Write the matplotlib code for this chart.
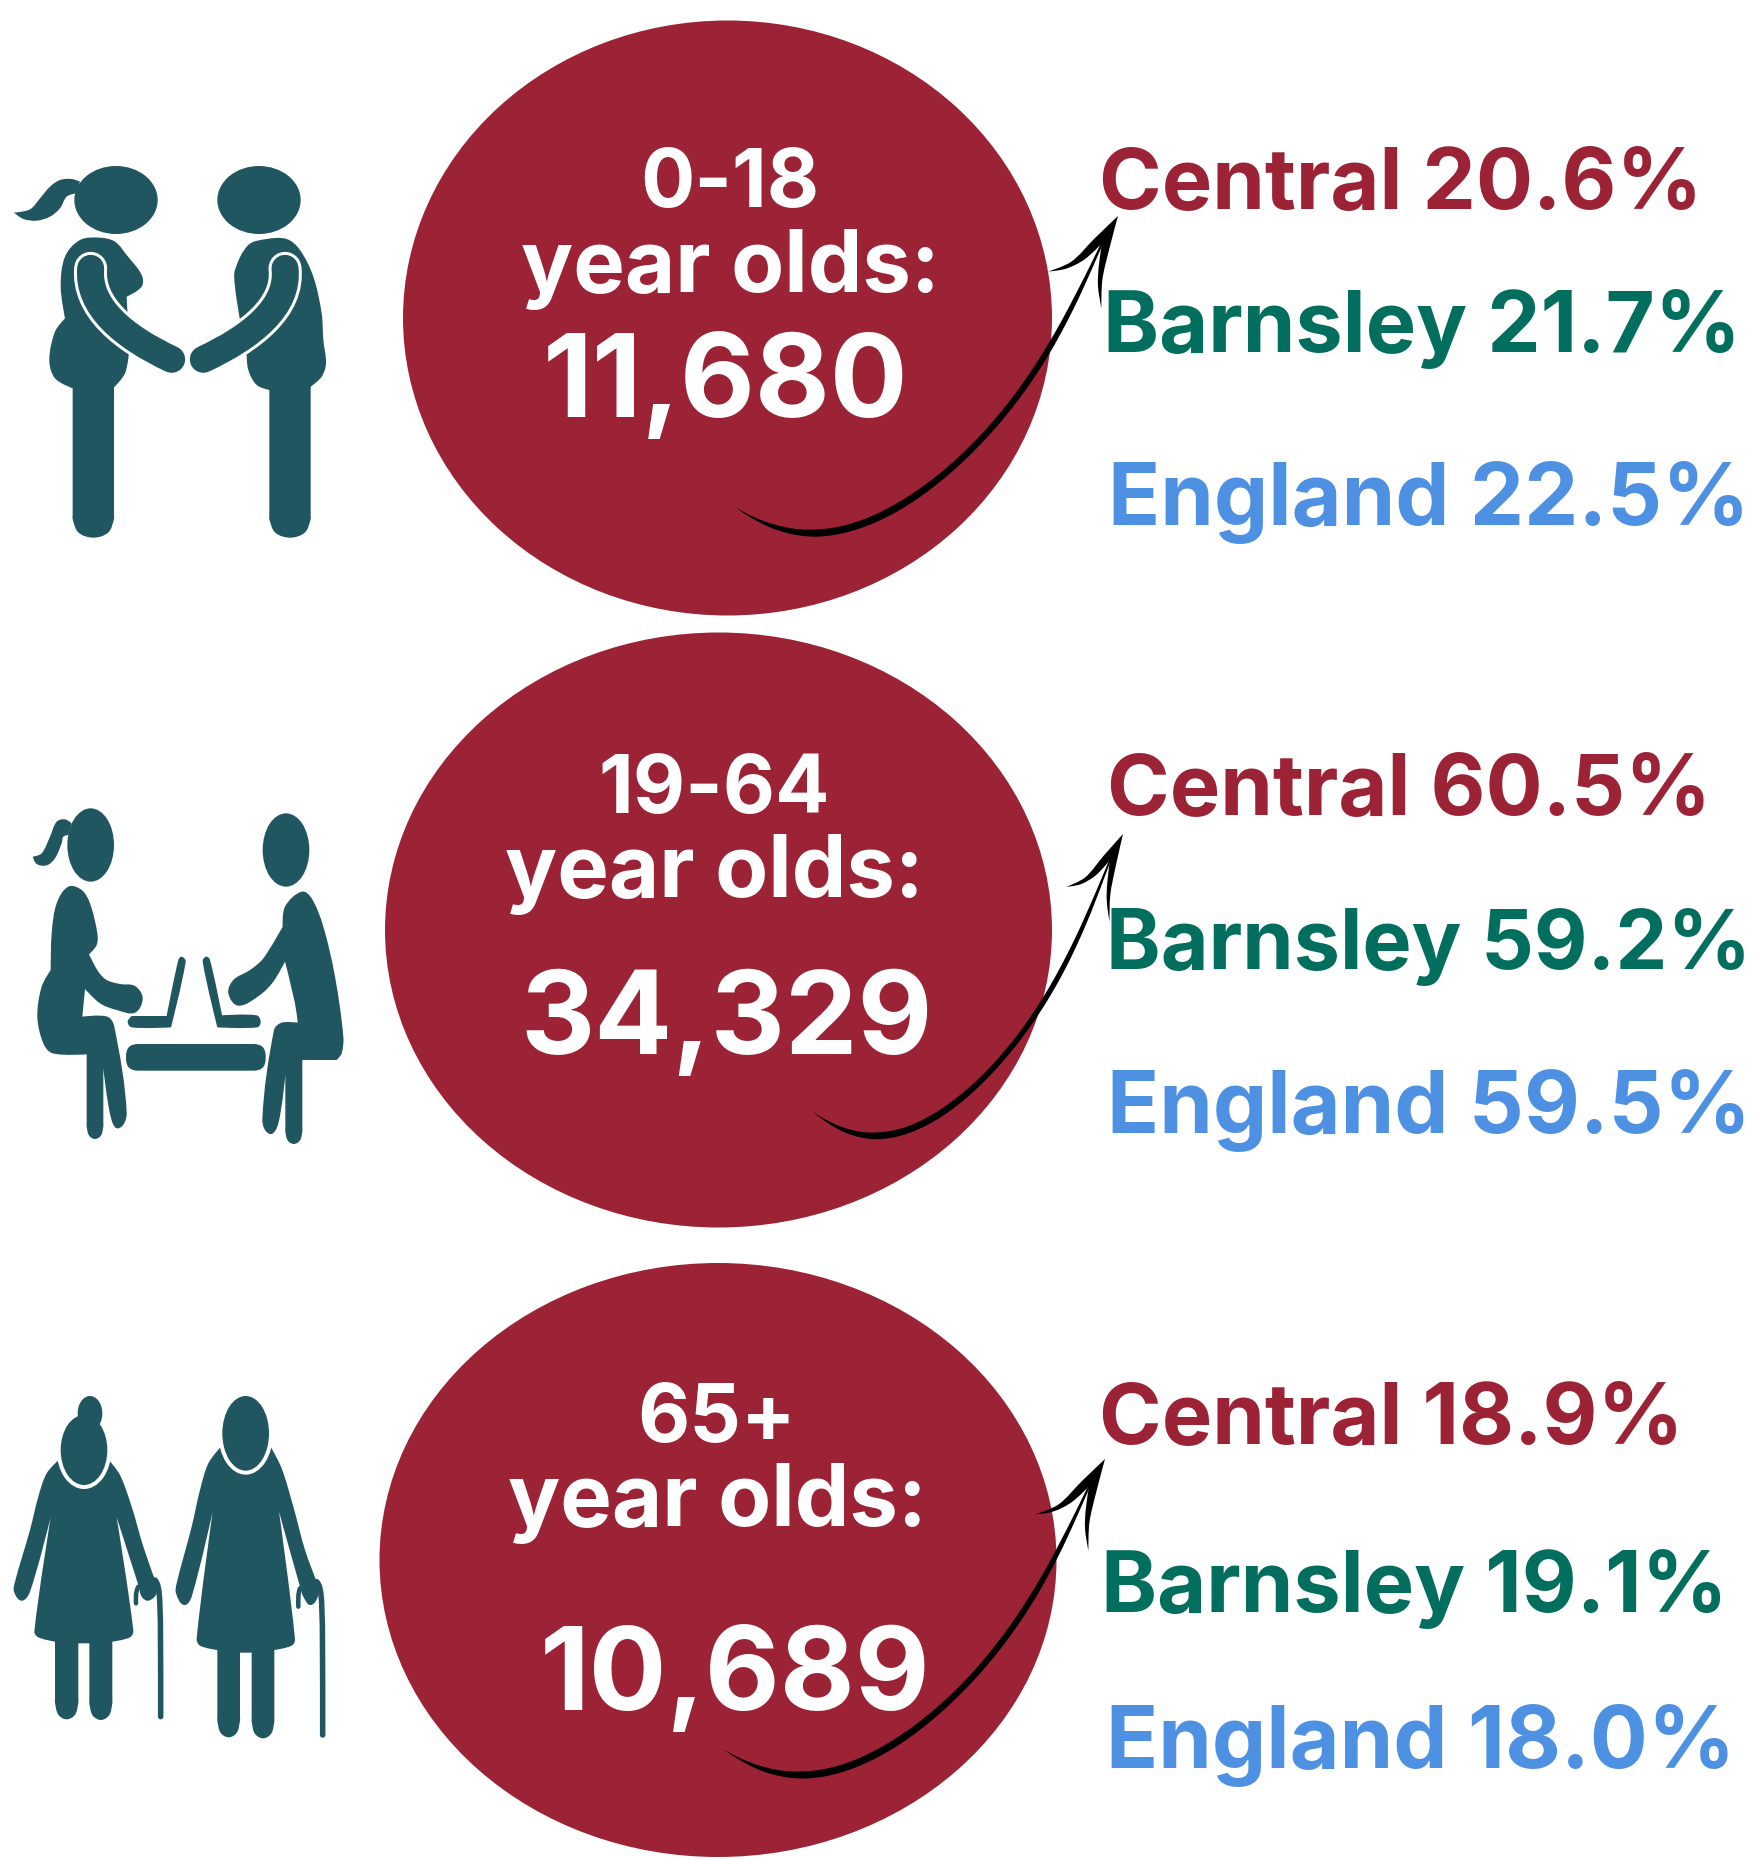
import numpy as np
import matplotlib
matplotlib.use("Agg")
import matplotlib.pyplot as plt
from matplotlib.path import Path
from matplotlib.patches import PathPatch, Ellipse, FancyBboxPatch, Polygon

W, H = 1754, 1860
plt.rcParams['font.family'] = ['Inter', 'DejaVu Sans']

age_groups = ["0-18", "19-64", "65+"]
populations = ["11,680", "34,329", "10,689"]
area_names = ["Central", "Barnsley", "England"]
central_pct = [20.6, 60.5, 18.9]
barnsley_pct = [21.7, 59.2, 19.1]
england_pct = [22.5, 59.5, 18.0]

MAROON = "#9B2335"
TEAL = "#20565F"
area_colors = [MAROON, "#026E5D", "#4E90E2"]

# layout, in pixels of the picture
circles = [(727.5, 318, 649, 595), (718.5, 930, 667, 595), (718, 1560, 677, 594)]
group_xy = [(730, 207), (714, 813), (717, 1442)]
olds_xy = [(730, 292), (714, 897), (717, 1526)]
pop_xy = [(726, 417), (727, 1054), (735, 1710)]
area_xy = [[(1099, 209), (1103, 352), (1108, 525)],
           [(1107, 815), (1106, 969), (1107, 1133)],
           [(1099, 1444), (1101, 1612), (1106, 1768)]]
area_sizes = [[61, 61, 62], [61, 59.5, 62], [61, 61, 62]]
arrow_ends = [((735, 507), (1118, 216)), ((812, 1111), (1123, 834)), ((723, 1749), (1105, 1459))]

fig = plt.figure(figsize=(W / 100, H / 100), dpi=100)
ax = fig.add_axes([0, 0, 1, 1])
ax.set_xlim(0, W)
ax.set_ylim(H, 0)
ax.axis("off")


def blob_path(pts):
  # closed smooth outline, a point with a third value is a sharp corner
  n = len(pts)
  xy = np.array([p[:2] for p in pts], float)
  verts = [xy[0]]
  codes = [Path.MOVETO]
  for i in range(n):
    a, b = xy[i], xy[(i + 1) % n]
    seg = np.linalg.norm(b - a)
    ta = xy[(i + 1) % n] - xy[i - 1]
    tb = xy[(i + 2) % n] - xy[i]
    ta = ta / (np.linalg.norm(ta) + 1e-9)
    tb = tb / (np.linalg.norm(tb) + 1e-9)
    ha = 0 if len(pts[i]) > 2 else seg * 0.33
    hb = 0 if len(pts[(i + 1) % n]) > 2 else seg * 0.33
    verts += [a + ta * ha, b - tb * hb, b]
    codes += [Path.CURVE4] * 3
  return Path(verts, codes)


def to_px(pts, ox, oy, s=3.0):
  return [tuple([ox + p[0] / s, oy + p[1] / s] + list(p[2:])) for p in pts]


def blob(pts, ox, oy, color=TEAL, z=3):
  ax.add_patch(PathPatch(blob_path(to_px(pts, ox, oy)), fc=color, ec="none", zorder=z))


def head(cx, cy, rx, ry, ox, oy, z=4):
  ax.add_patch(Ellipse((ox + cx / 3, oy + cy / 3), 2 * rx / 3, 2 * ry / 3, fc=TEAL, ec="none", zorder=z))


def stroke(pts, ox, oy, width, color=TEAL, z=4):
  p = np.array(pts, float) / 3 + [ox, oy]
  codes = [Path.MOVETO] + [Path.CURVE4] * (len(p) - 1)
  ax.add_patch(PathPatch(Path(p, codes), fc="none", ec=color, lw=width * 0.72,
                         capstyle="round", zorder=z))


def leg(x0, x1, y, h):
  # straight sides and a rounded foot
  w = x1 - x0
  return [(x0, y - h - 12), (x0, y - h), (x0 + 0.14 * w, y - 0.28 * h), (x0 + 0.5 * w, y),
          (x1 - 0.14 * w, y - 0.28 * h), (x1, y - h), (x1, y - h - 12)]


# circles and text
for i in range(3):
  cx, cy, w, h = circles[i]
  ax.add_patch(Ellipse((cx, cy), w, h, fc=MAROON, ec="none", zorder=1))
  x, y = group_xy[i]
  ax.text(x, y, age_groups[i], color="white", fontsize=58, fontweight="bold", ha="center", va="baseline", zorder=6)
  x, y = olds_xy[i]
  ax.text(x, y, "year olds:", color="white", fontsize=62.5, fontweight="bold", ha="center", va="baseline", zorder=6)
  x, y = pop_xy[i]
  ax.text(x, y, populations[i], color="white", fontsize=83, fontweight="bold", ha="center", va="baseline", zorder=6)
  vals = [central_pct[i], barnsley_pct[i], england_pct[i]]
  for j in range(3):
    x, y = area_xy[i][j]
    ax.text(x, y, f"{area_names[j]} {vals[j]:.1f}%", color=area_colors[j], fontsize=area_sizes[i][j],
            fontweight="bold", ha="left", va="baseline", zorder=6)

# arrows, one outline fitted between tail and tip
shaft_x = np.array([105, 230, 350, 480, 600, 730, 850, 950, 1045, 1130, 1207], float)
shaft_y = np.array([982, 1045, 1058, 1035, 978, 888, 772, 648, 512, 355, 190], float)
shaft_w = np.array([0, 14, 22, 22, 22, 20, 19, 19, 18, 14, 6], float)
arrow_head = [(1045, 275, 0), (1115, 245), (1185, 175), (1255, 108, 0), (1228, 210), (1208, 300), (1205, 385, 0),
              (1195, 320), (1197, 260), (1207, 190, 0), (1155, 238), (1100, 266)]
t0 = np.linspace(0, 1, len(shaft_x))
t = np.linspace(0, 1, 200)
fx = np.polyval(np.polyfit(t0, shaft_x, 5), t)
fy = np.polyval(np.polyfit(t0, shaft_y, 5), t)
fw = np.interp(t, t0, shaft_w)
for (tail, tip) in arrow_ends:
  sx = (tip[0] - tail[0]) / (1255 - 105)
  sy = (tip[1] - tail[1]) / (108 - 982)
  dx, dy = np.gradient(fx), np.gradient(fy)
  ln = np.hypot(dx, dy)
  ux = fx - dy / ln * fw / 2
  uy = fy + dx / ln * fw / 2
  lx = fx + dy / ln * fw / 2
  ly = fy - dx / ln * fw / 2
  outline = np.column_stack([np.r_[ux, lx[::-1]], np.r_[uy, ly[::-1]]])
  outline = np.column_stack([tail[0] + (outline[:, 0] - 105) * sx, tail[1] + (outline[:, 1] - 982) * sy])
  ax.add_patch(Polygon(outline, closed=True, fc="black", ec="none", zorder=5))
  pts = [tuple([tail[0] + (p[0] - 105) * sx, tail[1] + (p[1] - 982) * sy] + list(p[2:])) for p in arrow_head]
  ax.add_patch(PathPatch(blob_path(pts), fc="black", ec="none", zorder=5))

# first icon, two people holding hands
ox, oy = 0, 140
head(348, 180, 125, 102, ox, oy)
head(777, 180, 125, 102, ox, oy)
blob([(240, 125, 0), (215, 117), (180, 120), (150, 140), (120, 175), (90, 208), (42, 218, 0), (70, 237), (110, 242),
      (150, 230), (180, 205), (200, 170), (228, 160, 0)], ox, oy)
blob([(240, 300), (300, 293), (345, 305), (380, 345), (425, 405), (425, 440), (380, 470, 0), (388, 630, 0), (375, 700),
      (342, 742, 0)] + leg(342, 218, 1193, 55) + [(218, 745, 0), (165, 715), (148, 660), (165, 575),
      (195, 535, 0), (182, 440), (195, 350)], ox, oy)
blob([(745, 315), (800, 297), (860, 297), (900, 330), (940, 410), (965, 520), (970, 600), (978, 670), (965, 710),
      (932, 740, 0)] + leg(932, 808, 1193, 55) + [(808, 750, 0), (770, 735), (745, 690), (738, 630),
      (720, 540), (705, 440), (705, 390)], ox, oy)
arm1 = [(272, 385), (262, 500), (370, 590), (515, 658)]
arm2 = [(855, 385), (868, 500), (755, 590), (610, 658)]
for arm in [arm1, arm2]:
  stroke(arm, ox, oy, 33, "white", 4)
  stroke(arm, ox, oy, 27, TEAL, 4)

# second icon, two people at laptops
ox, oy = 20, 790
head(212, 165, 70, 110, ox, oy)
head(798, 180, 70, 110, ox, oy)
blob([(155, 100, 0), (135, 88), (110, 95), (90, 140), (65, 190), (38, 200, 0), (50, 222), (80, 226), (105, 205),
      (125, 160), (130, 140), (145, 135, 0)], ox, oy)
blob([(145, 290), (185, 300), (210, 340), (232, 430), (230, 465), (207, 493, 0), (235, 545), (260, 570), (300, 582),
      (345, 588), (368, 625), (345, 668), (290, 660), (240, 640), (195, 597, 0), (187, 680, 0), (262, 680), (283, 710),
      (320, 970), (295, 1015), (272, 980), (250, 835, 0)] + leg(250, 200, 1047, 38) + [(200, 793, 0),
      (98, 790), (70, 760), (52, 680), (65, 590), (92, 540, 0), (95, 430), (110, 340)], ox, oy)
blob([(335, 678, 0), (440, 678, 0), (475, 510), (485, 500), (497, 515), (453, 712, 0), (335, 712), (323, 695)], ox, oy)
blob([(558, 500), (570, 510), (606, 676, 0), (710, 676), (722, 695), (712, 712), (592, 712, 0), (548, 515)], ox, oy)
ax.add_patch(FancyBboxPatch((ox + 318 / 3, oy + 762 / 3), 419 / 3, 80 / 3, boxstyle="round,pad=0,rounding_size=12",
                            fc=TEAL, ec="none", zorder=3))
blob([(845, 305), (875, 325), (910, 410), (945, 560), (970, 740), (965, 790), (950, 810, 0), (847, 810, 0)]
     + leg(847, 796, 1062, 38) + [(796, 855, 0), (775, 1000), (750, 1032), (727, 990), (762, 720), (785, 698),
      (833, 698, 0), (825, 640), (795, 515, 0), (760, 575), (720, 615), (655, 647), (625, 610), (640, 570), (690, 540),
      (730, 505), (788, 410, 0), (795, 350)], ox, oy)

# third icon, two older people with canes
ox, oy = 0, 1380
blob([(178, 238, 0), (140, 280), (115, 350), (90, 450), (45, 605), (42, 635), (65, 662), (90, 635), (152, 412, 0),
      (103, 755), (115, 772), (165, 785, 0)] + leg(165, 235, 1018, 50) + [(235, 790, 0), (268, 790, 0)]
     + leg(268, 337, 1020, 50) + [(337, 785, 0), (390, 772), (400, 752), (350, 412, 0), (415, 615), (425, 650),
      (445, 662), (470, 640), (465, 600, 0), (430, 500), (395, 380), (360, 285), (325, 238, 0), (252, 200, 0)], ox, oy)
blob([(663, 200, 0), (625, 250), (600, 330), (575, 440), (530, 610), (528, 640), (552, 675), (575, 650), (638, 395, 0),
      (590, 775), (600, 797), (652, 810, 0)] + leg(652, 720, 1072, 50) + [(720, 818, 0), (755, 818, 0)]
     + leg(755, 823, 1075, 50) + [(823, 810, 0), (875, 797), (885, 778), (837, 395, 0), (900, 620),
      (910, 650), (932, 675), (955, 645), (950, 605, 0), (915, 510), (880, 380), (845, 265), (812, 200, 0),
      (737, 170, 0)], ox, oy)
for (cx, cy, rx, ry) in [(252, 210, 70, 105), (737, 160, 70, 112)]:
  ax.add_patch(Ellipse((ox + cx / 3, oy + cy / 3), 2 * (rx + 12) / 3, 2 * (ry + 12) / 3, fc="white", ec="none", zorder=4))
  head(cx, cy, rx, ry, ox, oy, 5)
head(270, 100, 37, 52, ox, oy, 4.5)
stroke([(465, 600), (482, 620), (482, 650), (482, 1010)], ox, oy, 5.5)
stroke([(415, 620), (405, 640), (408, 655), (408, 670)], ox, oy, 4.5)
stroke([(950, 605), (968, 625), (968, 650), (968, 1065)], ox, oy, 5.5)
stroke([(900, 625), (893, 640), (895, 665), (895, 680)], ox, oy, 4.5)

fig.savefig("out.png", dpi=100, facecolor="white")
